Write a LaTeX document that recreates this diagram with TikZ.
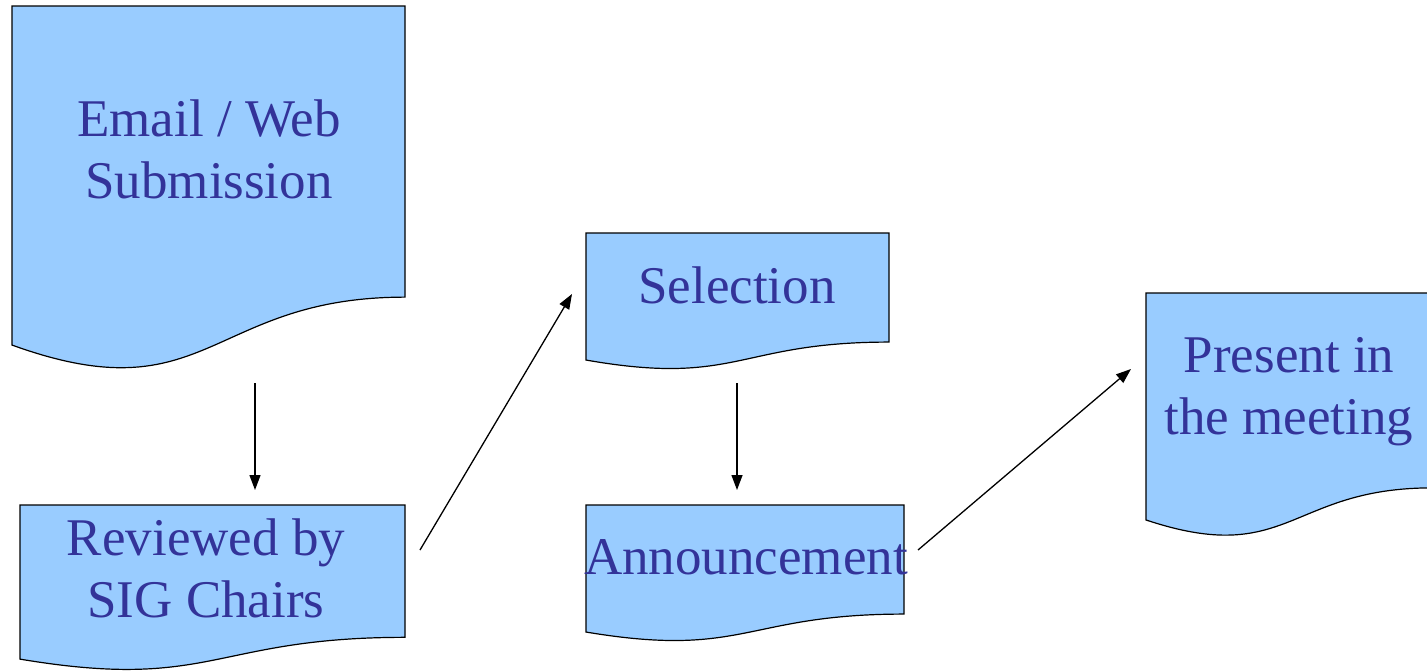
\documentclass[tikz,border=0pt]{standalone}
\usepackage{fontspec}
\setmainfont{Liberation Serif}
\usetikzlibrary{arrows.meta}
\definecolor{docblue}{HTML}{99CCFF}
\definecolor{docink}{HTML}{333399}
% document shape: left, top, width, height
\newcommand{\docshape}[4]{%
\draw[docline] (#1,#2) -- (#1+#3,#2) -- (#1+#3,#2+0.802*#4)
  .. controls (#1+0.5*#3,#2+0.802*#4) and (#1+0.5*#3,#2+1.13*#4) .. (#1,#2+0.934*#4) -- cycle;}
\tikzset{
docline/.style={draw=black,line width=1.2pt,fill=docblue},
doctext/.style={text=docink,align=center,font=\fontsize{53}{62}\selectfont,inner sep=0pt},
flow/.style={line width=1.3pt,-{Triangle[length=15pt,width=11pt]}}
}
\begin{document}
\begin{tikzpicture}[x=1pt,y=-1pt]
\useasboundingbox (0,0) rectangle (1427,670);
\docshape{12}{6}{393}{363}
\docshape{20}{505}{385}{165}
\docshape{586}{233}{303}{136}
\docshape{586}{505}{318}{136}
\docshape{1146}{293}{286}{243}
\node[doctext] (email) at (209,149) {Email / Web\\Submission};
\node[doctext] (review) at (206,568) {Reviewed by\\SIG Chairs};
\node[doctext] (select) at (737,285) {Selection};
\node[doctext] (announce) at (746,557) {Announcement};
\node[doctext] (present) at (1289,392) {Present in\\the meeting};
\coordinate (email-out) at (255,383);
\coordinate (review-in) at (255,490);
\coordinate (review-out) at (420,550);
\coordinate (select-in) at (572,294);
\coordinate (select-out) at (737,383);
\coordinate (announce-in) at (737,490);
\coordinate (announce-out) at (918,550);
\coordinate (present-in) at (1131,369);
\draw[flow] (email-out) -- (review-in);
\draw[flow] (review-out) -- (select-in);
\draw[flow] (select-out) -- (announce-in);
\draw[flow] (announce-out) -- (present-in);
\end{tikzpicture}
\end{document}
